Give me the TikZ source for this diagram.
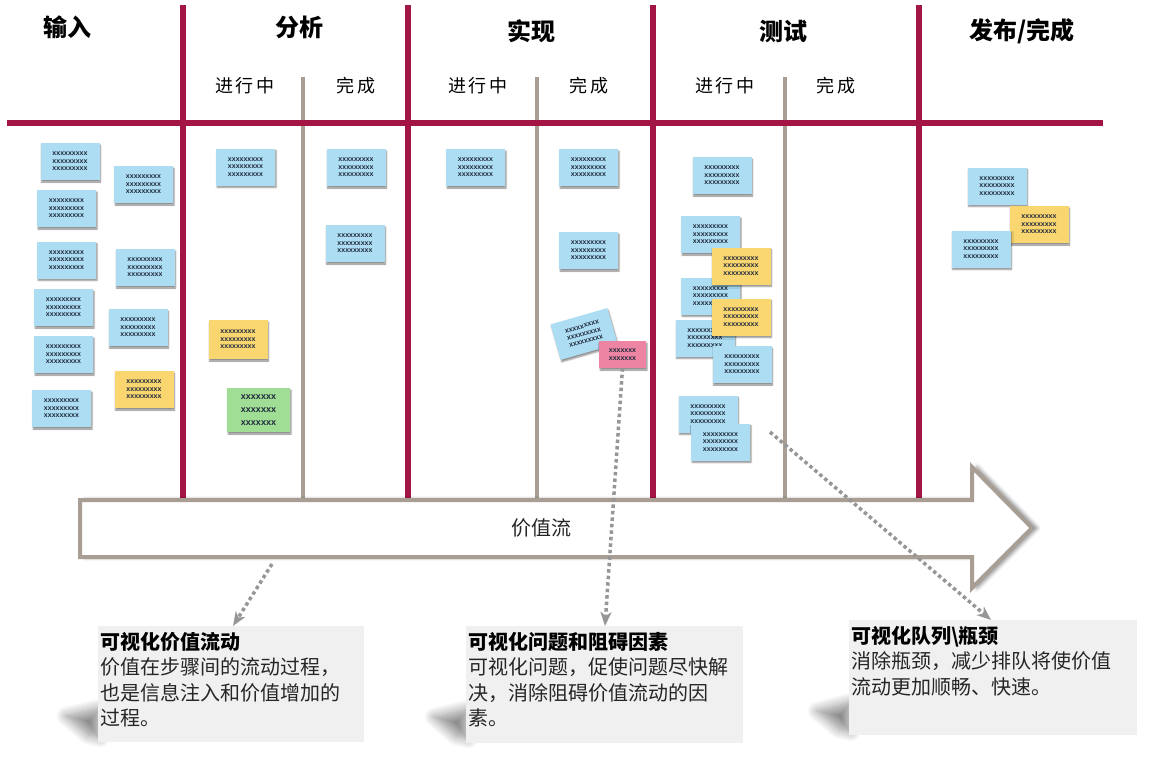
\documentclass[tikz,border=0pt]{standalone}
\usepackage{fontspec}
\setmainfont{Noto Sans CJK SC}
\newfontfamily\cardfont{Liberation Sans}
\usetikzlibrary{shadows,shadows.blur,arrows.meta}

\definecolor{boardred}{RGB}{163,21,69}
\definecolor{divgray}{RGB}{168,158,148}
\definecolor{cardblue}{RGB}{172,221,242}
\definecolor{cardyellow}{RGB}{250,214,112}
\definecolor{cardgreen}{RGB}{160,222,150}
\definecolor{cardpink}{RGB}{238,132,163}
\definecolor{calloutbg}{RGB}{240,240,240}
\definecolor{dotgray}{RGB}{150,150,150}
\definecolor{xink}{RGB}{32,42,60}

\newcommand\xrow{xxxxxxxxx}
\newcommand\xthree{\xrow\\\xrow\\\xrow}

\tikzset{
  boardline/.style={draw=boardred, line width=6pt},
  laneline/.style={draw=divgray, line width=4pt},
  head/.style={font=\bfseries\fontsize{24}{28}\selectfont, inner sep=0pt},
  subhead/.style={font=\addfontfeature{LetterSpace=12}\fontsize{18}{22}\selectfont, inner sep=0pt},
  card/.style={minimum width=59pt, minimum height=37pt, inner sep=0pt, align=center,
    font=\cardfont\bfseries\fontsize{7}{7.6}\selectfont, text=xink,
    blur shadow={shadow xshift=1pt, shadow yshift=-2pt, shadow blur radius=1.5pt, shadow opacity=45}},
  bluecard/.style={card, fill=cardblue},
  yellowcard/.style={card, fill=cardyellow},
  greencard/.style={card, fill=cardgreen, minimum width=63pt, minimum height=44pt,
    font=\cardfont\bfseries\fontsize{9}{13}\selectfont},
  pinkcard/.style={card, fill=cardpink, minimum width=47pt, minimum height=27pt},
  flowarrow/.style={draw=divgray, line width=4pt, fill=white, line join=miter,
    blur shadow={shadow xshift=5pt, shadow yshift=0pt, shadow blur radius=4pt, shadow opacity=50}},
  callbox/.style={fill=calloutbg, inner sep=0pt, anchor=north west},
  calltext/.style={inner sep=0pt, anchor=north west, align=left, text=black!85,
    font=\fontsize{20}{25.5}\selectfont},
  dotline/.style={draw=dotgray, line width=3.5pt, dash pattern=on 3.5pt off 3pt,
    -{Stealth[length=14pt,width=11pt,inset=4pt]}},
  callshadow/.style={blur shadow={shadow xshift=0pt, shadow yshift=0pt,
    shadow blur radius=10pt, shadow blur steps=12, shadow opacity=45}}
}

\begin{document}
\begin{tikzpicture}[x=1pt,y=-1pt]
\useasboundingbox (0,0) rectangle (1167,758);

% column headings
\node[head] (hIn) at (67,27) {输入};
\node[head] (hAn) at (299,27) {分析};
\node[head] (hIm) at (531,31) {实现};
\node[head] (hTe) at (783,31) {测试};
\node[head] (hRe) at (1022,31) {发布/完成};

\node[subhead] (sAnP) at (245,86) {进行中};
\node[subhead] (sAnD) at (356,86) {完成};
\node[subhead] (sImP) at (478,86) {进行中};
\node[subhead] (sImD) at (589,86) {完成};
\node[subhead] (sTeP) at (725,86) {进行中};
\node[subhead] (sTeD) at (836,86) {完成};

% board grid
\draw[laneline] (303,77) -- (303,498);
\draw[laneline] (537,77) -- (537,498);
\draw[laneline] (785,77) -- (785,498);
\foreach \x in {183,408,653,919}
  \draw[boardline] (\x,5) -- (\x,498);
\draw[boardline] (7,123) -- (1103,123);

% value stream arrow
\draw[flowarrow] (80,500) -- (972,500) -- (972,467) -- (1032,528) -- (972,588)
  -- (972,557) -- (80,557) -- cycle;
\node[font=\fontsize{20}{24}\selectfont, text=black!85] (vs) at (541,528) {价值流};

% input column
\node[bluecard] (in1) at (70,161.5) {\xthree};
\node[bluecard] (in2) at (143.5,184.5) {\xthree};
\node[bluecard] (in3) at (66.5,208.5) {\xthree};
\node[bluecard] (in4) at (66.5,260) {\xthree};
\node[bluecard] (in5) at (145,267.5) {\xthree};
\node[bluecard] (in6) at (63.5,307.5) {\xthree};
\node[bluecard] (in7) at (138,327.5) {\xthree};
\node[bluecard] (in8) at (63.5,354.5) {\xthree};
\node[yellowcard] (in9) at (144,389.5) {\xthree};
\node[bluecard] (in10) at (61.5,408.5) {\xthree};

% analysis
\node[bluecard] (an1) at (245.5,167) {\xthree};
\node[yellowcard, minimum height=39pt] (an2) at (238,339.5) {\xthree};
\node[greencard] (an3) at (258.5,410) {xxxxxxx\\xxxxxxx\\xxxxxxx};
\node[bluecard] (an4) at (356,167.5) {\xthree};
\node[bluecard] (an5) at (355,243.5) {\xthree};

% implementation
\node[bluecard] (im1) at (475.5,167.5) {\xthree};
\node[bluecard] (im2) at (588.5,167.5) {\xthree};
\node[bluecard] (im3) at (588.5,250.5) {\xthree};
\node[bluecard, rotate=16] (im4) at (584,334) {\xthree};
\node[pinkcard] (im5) at (622.5,354.5) {xxxxxxx\\xxxxxxx};

% testing
\node[bluecard] (t1) at (722,175.5) {\xthree};
\node[bluecard] (t2) at (710.5,234.5) {\xthree};
\node[bluecard] (t3) at (710.5,296) {\xthree};
\node[yellowcard] (t4) at (741,266) {\xthree};
\node[bluecard] (t5) at (705,338) {\xthree};
\node[yellowcard] (t6) at (741,317) {\xthree};
\node[bluecard] (t7) at (742,364.5) {\xthree};
\node[bluecard] (t8) at (708,414) {\xthree};
\node[bluecard] (t9) at (720.5,442) {\xthree};

% release
\node[bluecard] (r1) at (997,186) {\xthree};
\node[yellowcard] (r2) at (1039,224.5) {\xthree};
\node[bluecard] (r3) at (981,249) {\xthree};

% curled-page shadows under the callouts
\path[callshadow] (66,716) -- (100,708) -- (100,738) -- (88,735) -- cycle;
\path[callshadow] (434,717) -- (468,709) -- (468,739) -- (456,736) -- cycle;
\path[callshadow] (817,711) -- (851,702) -- (851,732) -- (839,729) -- cycle;

\node[callbox, minimum width=266pt, minimum height=116pt] (cb1) at (98,626) {};
\node[callbox, minimum width=277pt, minimum height=117pt] (cb2) at (466,626) {};
\node[callbox, minimum width=288pt, minimum height=115pt] (cb3) at (849,620) {};

\node[calltext] (ct1) at ([xshift=2pt,yshift=-6pt]cb1.north west)
  {{\bfseries\color{black}可视化价值流动}\\价值在步骤间的流动过程，\\也是信息注入和价值增加的\\过程。};
\node[calltext] (ct2) at ([xshift=2pt,yshift=-6pt]cb2.north west)
  {{\bfseries\color{black}可视化问题和阻碍因素}\\可视化问题，促使问题尽快解\\决，消除阻碍价值流动的因\\素。};
\node[calltext] (ct3) at ([xshift=2pt,yshift=-6pt]cb3.north west)
  {{\bfseries\color{black}可视化队列\textbackslash 瓶颈}\\消除瓶颈，减少排队将使价值\\流动更加顺畅、快速。};

% dotted pointers
\coordinate (p1) at (272,564);
\coordinate (p3) at (770,432);
\draw[dotline] (p1) -- ([xshift=135pt]cb1.north west);
\draw[dotline] (im5.south) -- ([xshift=139pt]cb2.north west);
\draw[dotline] (p3) -- ([xshift=142pt]cb3.north west);
\end{tikzpicture}
\end{document}
